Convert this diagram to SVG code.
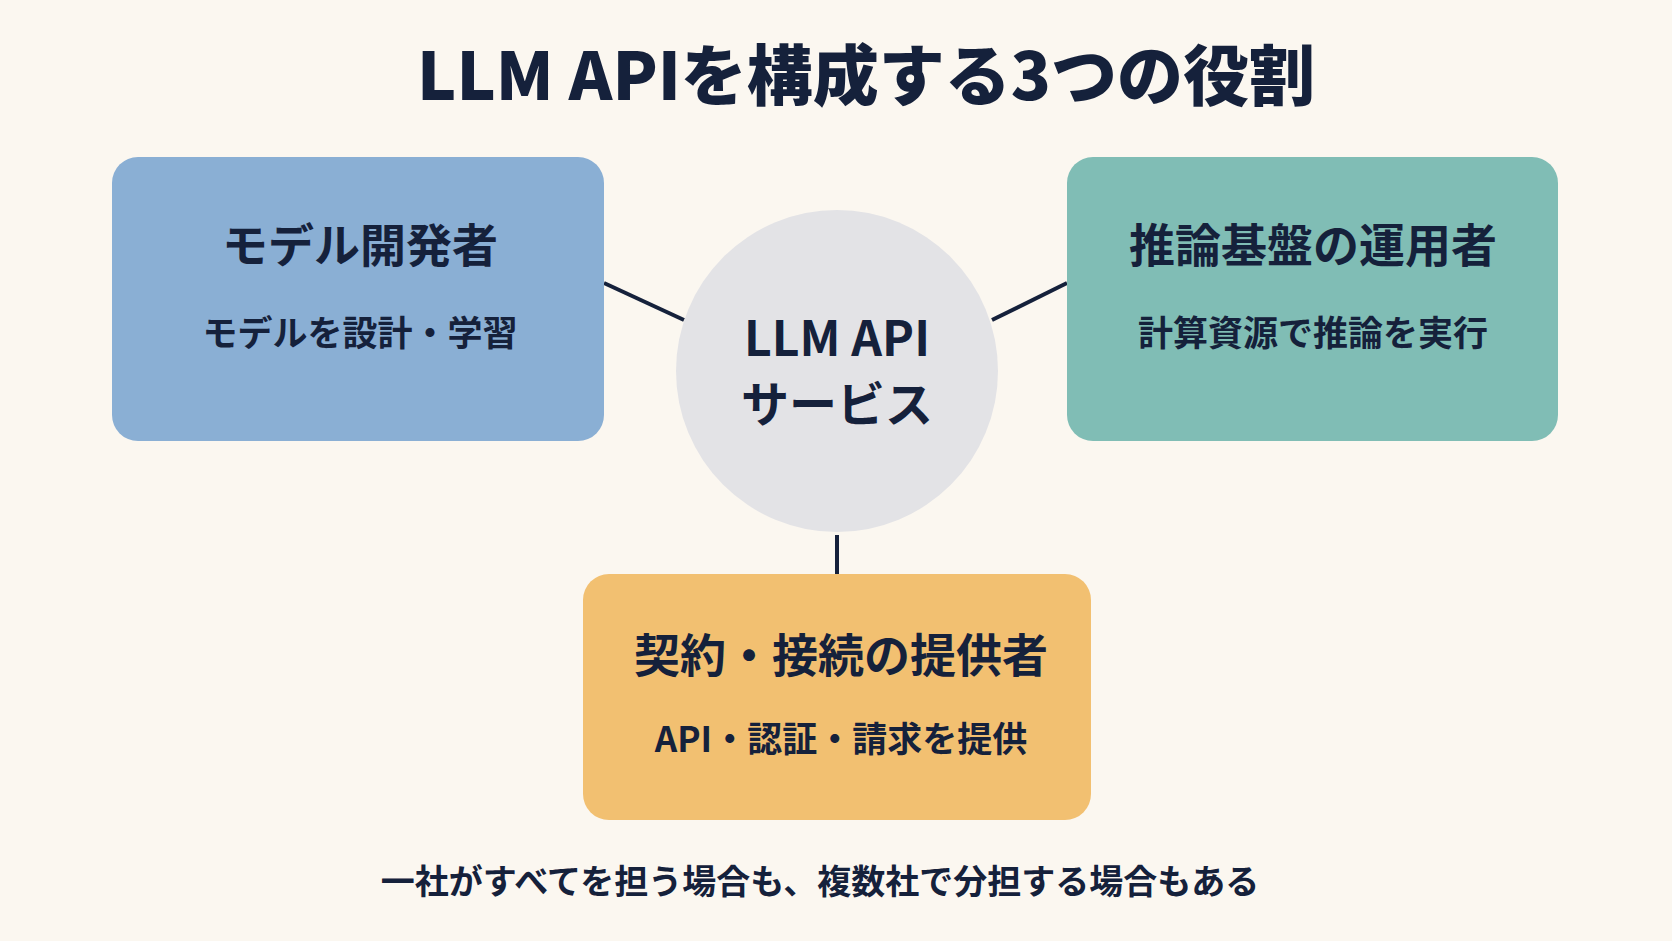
<svg xmlns="http://www.w3.org/2000/svg" width="1672" height="941" viewBox="0 0 1672 941">
<style>
text{font-family:"Noto Sans CJK JP","Noto Sans",sans-serif;fill:#15213B;text-anchor:middle;font-weight:700}
.h{font-size:46px}.s{font-size:35px}.c{font-size:48px}
.ln{stroke:#15213B;stroke-width:4;fill:none}
</style>
<rect width="1672" height="941" fill="#FBF7F0"/>
<text x="866" y="100" style="font-size:66px;font-weight:900">LLM APIを構成する3つの役割</text>
<g id="connectors">
<line class="ln" x1="604" y1="283" x2="684" y2="320"/>
<line class="ln" x1="992" y1="320" x2="1067" y2="283"/>
<line class="ln" x1="837" y1="535" x2="837" y2="574"/>
</g>
<g id="model"><rect x="112" y="157" width="492" height="284" rx="26" fill="#8AAFD4"/>
<text class="h" x="360" y="262">モデル開発者</text><text class="s" x="360" y="346">モデルを設計・学習</text></g>
<g id="infra"><rect x="1067" y="157" width="491" height="284" rx="26" fill="#80BDB5"/>
<text class="h" x="1313" y="262">推論基盤の運用者</text><text class="s" x="1313" y="346">計算資源で推論を実行</text></g>
<g id="provider"><rect x="583" y="574" width="508" height="246" rx="26" fill="#F2C071"/>
<text class="h" x="841" y="672">契約・接続の提供者</text><text class="s" x="841" y="752">API・認証・請求を提供</text></g>
<g id="center"><circle cx="837" cy="371" r="161" fill="#E3E3E6"/>
<text class="c" x="837" y="356">LLM API</text><text class="c" x="837" y="422">サービス</text></g>
<text x="820" y="894" style="font-size:34px">一社がすべてを担う場合も、複数社で分担する場合もある</text>
</svg>
